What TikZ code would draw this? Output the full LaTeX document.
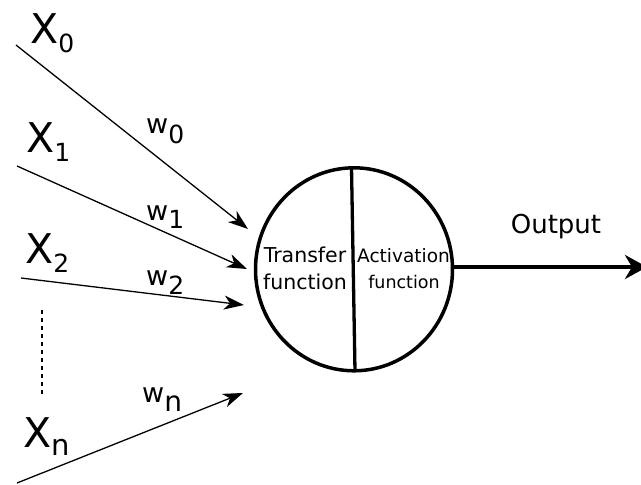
\documentclass[tikz,border=0pt]{standalone}
\usepackage{fontspec}
\setmainfont{DejaVu Sans}
\usetikzlibrary{arrows.meta,shapes.geometric}
\newcommand\fsz[1]{\fontsize{#1}{#1}\selectfont}
% input symbol with its index set lower and smaller
\newcommand\insym[3]{{\fsz{41}X}\raisebox{-#3pt}{\fsz{#2}#1}}
% weight symbol with its index
\newcommand\wsym[3]{{\fsz{27}w}\raisebox{-#3pt}{\fsz{#2}#1}}
\begin{document}
\begin{tikzpicture}[x=1pt,y=-1pt,
  inlink/.style={line width=1.3pt,-{Stealth[length=20pt,width=14pt,inset=6pt]}},
  outlink/.style={line width=4.3pt,-{Stealth[length=22pt,width=24pt,inset=7pt]}},
  label/.style={inner sep=0pt,anchor=base west},
  inner/.style={inner sep=0pt,anchor=base}]
\useasboundingbox (0,0) rectangle (641,485);

% neuron body and its split
\node[ellipse,draw,line width=3.5pt,minimum width=197pt,minimum height=203pt,inner sep=0pt] (neuron) at (354,269.3) {};
\coordinate (divtop) at (351.5,167);
\coordinate (divbot) at (355,371);
\draw[line width=3.3pt] (divtop) -- (divbot);

\node[inner] (tr1) at (305,262) {\fsz{20.5}Transfer};
\node[inner] (tr2) at (305,289) {\fsz{20.5}function};
\node[inner] (ac1) at (403.5,262) {\fsz{18.5}Activation};
\node[inner] (ac2) at (404,288) {\fsz{17.5}function};

% inputs
\node[label] (x0) at (30,43) {\insym{0}{25}{9}};
\node[label] (x1) at (26,152) {\insym{1}{25}{9}};
\node[label] (x2) at (25,263) {\insym{2}{25}{9}};
\node[label] (xn) at (23,447) {\insym{n}{29}{8}};

\coordinate (s0) at (16,45);
\coordinate (s1) at (17,166);
\coordinate (s2) at (21,278);
\coordinate (sn) at (17,483);
\coordinate (t0) at (248,229);
\coordinate (t1) at (247,269);
\coordinate (t2) at (244,305);
\coordinate (tn) at (243,393);

\draw[inlink] (s0) -- (t0);
\draw[inlink] (s1) -- (t1);
\draw[inlink] (s2) -- (t2);
\draw[inlink] (sn) -- (tn);

% weights
\node[label] (w0) at (146,133) {\wsym{0}{25}{10}};
\node[label] (w1) at (146,220) {\wsym{1}{25}{8}};
\node[label] (w2) at (146,285) {\wsym{2}{25}{9}};
\node[label] (wn) at (142,402) {\wsym{n}{28}{9}};

% elided inputs
\coordinate (d1) at (42,310);
\coordinate (d2) at (42,395);
\draw[line width=1.5pt,dash pattern=on 4pt off 4pt] (d1) -- (d2);

% output
\coordinate (out) at (647,267);
\draw[outlink] (neuron.east |- out) -- (out);
\node[inner] (outlab) at (556,233) {\fsz{26}Output};
\end{tikzpicture}
\end{document}
